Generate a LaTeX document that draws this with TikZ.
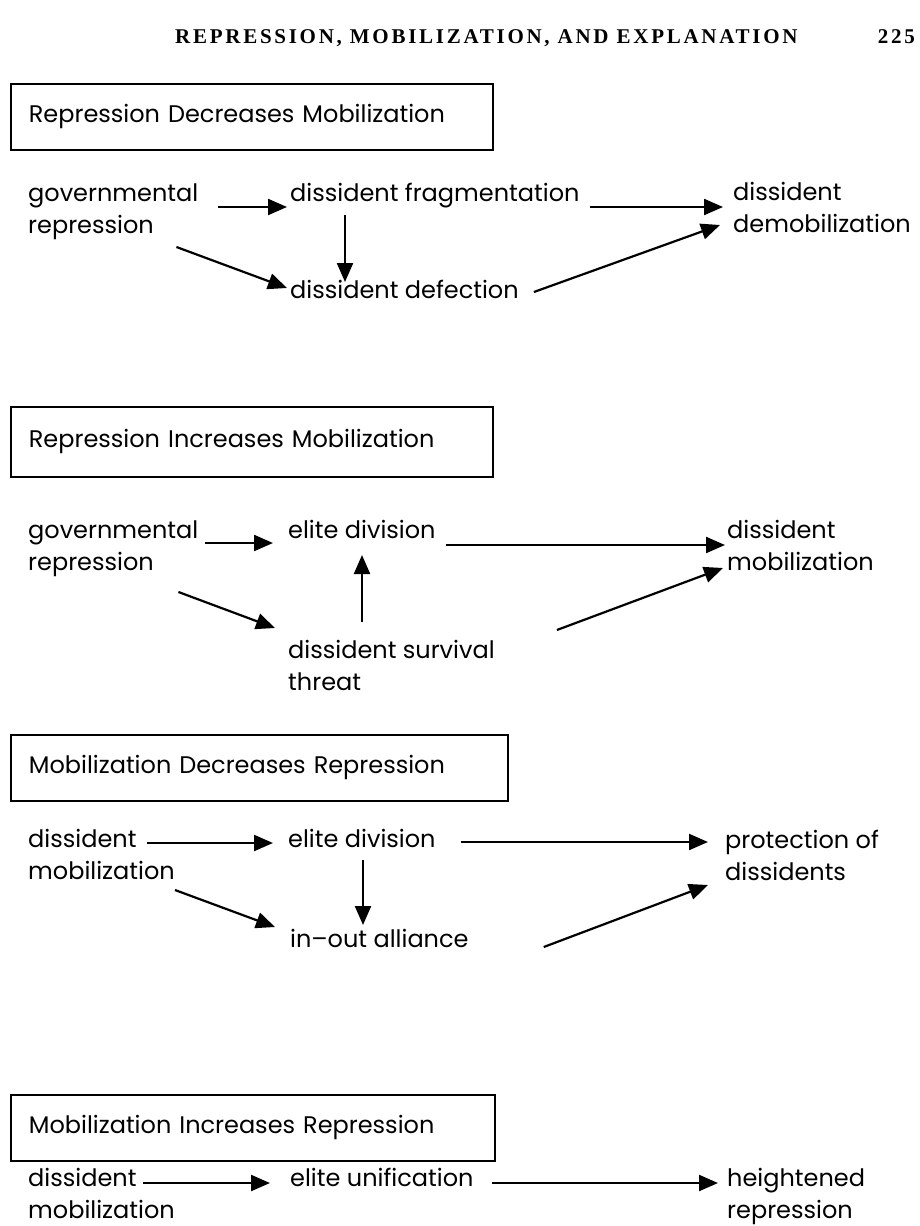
\documentclass[tikz,border=0pt]{standalone}
\usepackage{fontspec}
\setmainfont{Poppins}
\newfontfamily\headfont{Liberation Serif}[LetterSpace=13]
\usetikzlibrary{arrows.meta}

\begin{document}
\begin{tikzpicture}[x=1pt,y=-1pt,
    txt/.style={anchor=base west,inner sep=0pt,align=left,font=\fontsize{24}{32}\selectfont},
    titlebox/.style={draw,line width=1.8pt,anchor=north west,minimum height=66pt,inner xsep=18pt,
      text width=446pt,align=left,font=\fontsize{24}{32}\selectfont},
    link/.style={line width=2.2pt,-{Triangle[length=19pt,width=16pt]}}]
    \useasboundingbox[fill=white] (0,0) rectangle (920,1226);

    % running head
    \node[anchor=base west,inner sep=0pt,font=\headfont\bfseries\fontsize{21}{21}\selectfont] (head) at (175,43) {REPRESSION, MOBILIZATION, AND EXPLANATION};
    \node[anchor=base east,inner sep=0pt,font=\headfont\bfseries\fontsize{21}{21}\selectfont] (page) at (915,43) {225};

    % repression decreases mobilization (two-line nodes sit on their last line)
    \node[titlebox] (box1) at (10,83) {Repression Decreases Mobilization};
    \node[txt] (gov1) at (28,233) {governmental\\repression};
    \node[txt] (frag1) at (290,201) {dissident fragmentation};
    \node[txt] (demob1) at (733,232) {dissident\\demobilization};
    \node[txt] (defect1) at (290,298) {dissident defection};
    \draw[link] ([shift={(20,-26)}]gov1.base east) -- ([shift={(-3,6)}]frag1.base west);
    \draw[link] ([shift={(10,6)}]frag1.base east) -- ([shift={(-10,-25)}]demob1.base west);
    \draw[link] ([shift={(55,14)}]frag1.base west) -- ([shift={(55,-16)}]defect1.base west);
    \draw[link] ([shift={(-22,14)}]gov1.base east) -- ([shift={(-3,-10)}]defect1.base west);
    \draw[link] ([shift={(15,-6)}]defect1.base east) -- ([shift={(-13,-7)}]demob1.base west);

    % repression increases mobilization
    \node[titlebox,minimum height=70pt] (box2) at (10,406) {Repression Increases Mobilization};
    \node[txt] (gov2) at (28,570) {governmental\\repression};
    \node[txt] (elite2) at (288,538) {elite division};
    \node[txt] (mob2) at (727,570) {dissident\\mobilization};
    \node[txt] (threat2) at (288,690) {dissident survival\\threat};
    \draw[link] ([shift={(7,-27)}]gov2.base east) -- ([shift={(-15,5)}]elite2.base west);
    \draw[link] ([shift={(10,7)}]elite2.base east) -- ([shift={(-2,-25)}]mob2.base west);
    \draw[link] ([shift={(74,-68)}]threat2.base west) -- ([shift={(74,17)}]elite2.base west);
    \draw[link] ([shift={(-20,22)}]gov2.base east) -- ([shift={(-13,-62)}]threat2.base west);
    \draw[link] ([shift={(62,-60)}]threat2.base east) -- ([shift={(-4,-2)}]mob2.base west);

    % mobilization decreases repression
    \node[titlebox,text width=461pt] (box3) at (10,734) {Mobilization Decreases Repression};
    \node[txt] (dmob3) at (28,879) {dissident\\mobilization};
    \node[txt] (elite3) at (288,847) {elite division};
    \node[txt] (prot3) at (725,880) {protection of\\dissidents};
    \node[txt] (alli3) at (290,947) {in--out alliance};
    \draw[link] ([shift={(119,-36)}]dmob3.base west) -- ([shift={(-15,-4)}]elite3.base west);
    \draw[link] ([shift={(25,-5)}]elite3.base east) -- ([shift={(-17,-38)}]prot3.base west);
    \draw[link] ([shift={(75,13)}]elite3.base west) -- ([shift={(73,-22)}]alli3.base west);
    \draw[link] ([shift={(147,11)}]dmob3.base west) -- ([shift={(-15,-20)}]alli3.base west);
    \draw[link] ([shift={(75,0)}]alli3.base east) -- ([shift={(-17,5)}]prot3.base west);

    % mobilization increases repression
    \node[titlebox,text width=448pt] (box4) at (10,1094) {Mobilization Increases Repression};
    \node[txt] (dmob4) at (28,1218) {dissident\\mobilization};
    \node[txt] (unif4) at (290,1186) {elite unification};
    \node[txt] (heig4) at (727,1218) {heightened\\repression};
    \draw[link] ([shift={(115,-35)}]dmob4.base west) -- ([shift={(-20,-3)}]unif4.base west);
    \draw[link] ([shift={(18,-3)}]unif4.base east) -- ([shift={(-9,-35)}]heig4.base west);
\end{tikzpicture}
\end{document}
